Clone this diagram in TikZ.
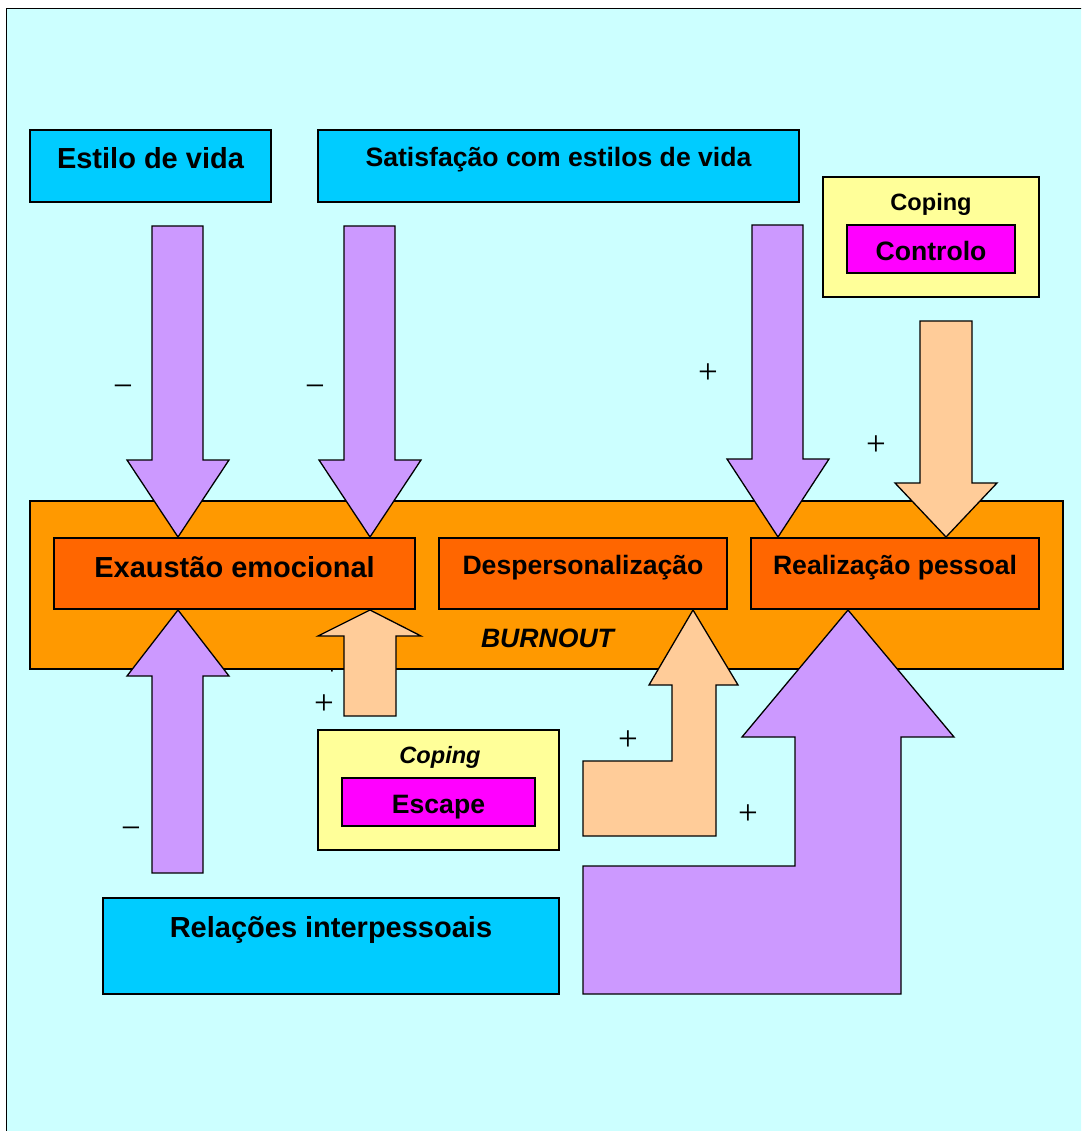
\documentclass[tikz,border=0pt]{standalone}
\usepackage{fontspec}
\setmainfont{Liberation Sans}
\newfontfamily\signfont{Liberation Serif}
\definecolor{bgc}{HTML}{CCFFFF}
\definecolor{bluec}{HTML}{00CCFF}
\definecolor{purplec}{HTML}{CC99FF}
\definecolor{peachc}{HTML}{FFCC99}
\definecolor{yellowc}{HTML}{FFFF99}
\definecolor{magentac}{HTML}{FF00FF}
\definecolor{orangec}{HTML}{FF9900}
\definecolor{darkorc}{HTML}{FF6600}
\tikzset{
  box/.style={draw=black, line width=1.3pt, inner sep=0pt, rectangle},
  bigtxt/.style={anchor=base, inner sep=0pt, font=\fontsize{29}{34}\selectfont\bfseries},
  midtxt/.style={anchor=base, inner sep=0pt, font=\fontsize{26.6}{31}\selectfont\bfseries},
  smalltxt/.style={anchor=base, inner sep=0pt, font=\fontsize{23.6}{28}\selectfont\bfseries},
  sign/.style={inner sep=0pt, font=\fontsize{35}{40}\selectfont\signfont},
  parrow/.style={draw=black, line width=1.3pt, fill=purplec, line join=miter},
  farrow/.style={draw=black, line width=1.3pt, fill=peachc, line join=miter}
}
\begin{document}
\begin{tikzpicture}[x=1pt,y=-1pt]
\useasboundingbox (0,0) rectangle (1081,1131);
\begin{scope}
\clip (0,0) rectangle (1081,1131);
\draw[line width=1.3pt, fill=bgc] (6.5,8.5) rectangle (1100,1150);
\end{scope}

% hidden sign behind BURNOUT
\node[sign] (hp) at (332,666) {+};

% top boxes
\node[box, fill=bluec, minimum width=241pt, minimum height=72pt] (estilo) at (150.5,166) {};
\node[bigtxt] (estilot) at (150.5,169) {Estilo de vida};
\node[box, fill=bluec, minimum width=481pt, minimum height=72pt] (satis) at (558.5,166) {};
\node[midtxt] (satist) at (558.5,167) {Satisfação com estilos de vida};

\node[box, fill=yellowc, minimum width=216pt, minimum height=120pt] (copc) at (931,237) {};
\node[smalltxt] (copct) at (931,211) {Coping};
\node[box, fill=magentac, minimum width=168pt, minimum height=48pt] (contr) at (931,249) {};
\node[midtxt] (contrt) at (931,261) {Controlo};

% BURNOUT
\node[box, fill=orangec, minimum width=1033pt, minimum height=168pt] (burn) at (546.5,585) {};
\node[midtxt, font=\fontsize{26.6}{31}\selectfont\bfseries\itshape] (burnt) at (547.5,647) {BURNOUT};
\node[box, fill=darkorc, minimum width=361pt, minimum height=71pt] (exa) at (234.5,573.5) {};
\node[bigtxt] (exat) at (234.5,577.5) {Exaustão emocional};
\node[box, fill=darkorc, minimum width=288pt, minimum height=71pt] (desp) at (583,573.5) {};
\node[midtxt] (despt) at (583,574.5) {Despersonalização};
\node[box, fill=darkorc, minimum width=288pt, minimum height=71pt] (real) at (895,573.5) {};
\node[midtxt] (realt) at (895,574.5) {Realização pessoal};

% bottom boxes
\node[box, fill=yellowc, minimum width=241pt, minimum height=120pt] (cope) at (438.5,790) {};
\node[smalltxt, font=\fontsize{23.6}{28}\selectfont\bfseries\itshape] (copet) at (440,763.3) {Coping};
\node[box, fill=magentac, minimum width=193pt, minimum height=48pt] (esc) at (438.5,802) {};
\node[midtxt] (esct) at (438.5,813.3) {Escape};
\node[box, fill=bluec, minimum width=456pt, minimum height=96pt] (rel) at (331,946) {};
\node[bigtxt] (relt) at (331,937.5) {Relações interpessoais};

% arrows down
\draw[parrow] (152,226) -- (203,226) -- (203,460) -- (229,460) -- (178,537) -- (127,460) -- (152,460) -- cycle;
\draw[parrow] (344,226) -- (395,226) -- (395,460) -- (421,460) -- (370,537) -- (319,460) -- (344,460) -- cycle;
\draw[parrow] (752,225) -- (803,225) -- (803,459) -- (829,459) -- (778,537) -- (727,459) -- (752,459) -- cycle;
\draw[farrow] (920,321) -- (972,321) -- (972,483) -- (997,483) -- (946,537) -- (895,483) -- (920,483) -- cycle;
% arrows up
\draw[parrow] (152,873) -- (203,873) -- (203,676) -- (229,676) -- (178,610) -- (127,676) -- (152,676) -- cycle;
\draw[farrow] (344,716) -- (396,716) -- (396,636) -- (421,636) -- (370,610) -- (318,636) -- (344,636) -- cycle;
\draw[farrow] (583,836) -- (716,836) -- (716,685) -- (738,685) -- (693,610) -- (649,685) -- (672,685) -- (672,761) -- (583,761) -- cycle;
\draw[parrow] (583,994) -- (901,994) -- (901,737) -- (954,737) -- (848,610) -- (742,737) -- (795,737) -- (795,866) -- (583,866) -- cycle;

% signs
\node[sign] (m1) at (123,391) {−};
\node[sign] (m2) at (315,391) {−};
\node[sign] (m3) at (131,833) {−};
\node[sign] (p1) at (708,374) {+};
\node[sign] (p2) at (876,446) {+};
\node[sign] (p3) at (324,705) {+};
\node[sign] (p4) at (628,741) {+};
\node[sign] (p5) at (748,815) {+};
\end{tikzpicture}
\end{document}
